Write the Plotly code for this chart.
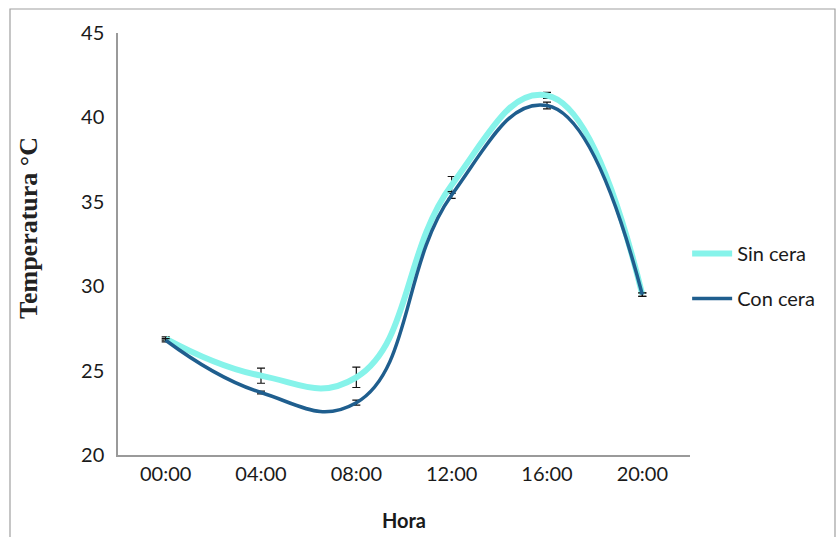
import plotly.graph_objects as go

horas = ["00:00", "04:00", "08:00", "12:00", "16:00", "20:00"]
sin_cera = [26.9, 24.7, 24.6, 36.0, 41.3, 29.5]
sin_cera_err = [0.1, 0.45, 0.6, 0.5, 0.18, 0.1]
con_cera = [26.8, 23.7, 23.1, 35.4, 40.7, 29.5]
con_cera_err = [0.1, 0.08, 0.15, 0.2, 0.2, 0.1]

tick_font = dict(family="Lato, Liberation Sans Narrow, sans-serif", size=20, color="#1a1a1a")

fig = go.Figure()
fig.add_trace(go.Scatter(
    x=horas, y=sin_cera, name="Sin cera", mode="lines", legendgroup="a",
    line=dict(color="#86F3EA", width=6, shape="spline", smoothing=1.3),
    error_y=dict(type="data", array=sin_cera_err, visible=True, color="#111111", thickness=1.2, width=4),
))
fig.add_trace(go.Scatter(
    x=horas, y=con_cera, name="Con cera", mode="lines", legendgroup="b",
    line=dict(color="#1F5E8E", width=3.5, shape="spline", smoothing=1.3),
    error_y=dict(type="data", array=con_cera_err, visible=True, color="#111111", thickness=1.2, width=4),
))

fig.update_layout(
    width=837, height=537,
    margin=dict(l=118, r=147, t=33, b=82),
    paper_bgcolor="white", plot_bgcolor="white",
    showlegend=True,
    legend=dict(x=0.995, y=(455 - 276) / 422, xanchor="left", yanchor="middle",
                font=dict(family="Lato, sans-serif", size=20, color="#1a1a1a"),
                tracegroupgap=16, itemwidth=40, bgcolor="rgba(0,0,0,0)"),
    xaxis=dict(type="category", range=[-0.5, 5.5], showgrid=False, zeroline=False,
               showline=True, linecolor="#9a9a9a", linewidth=1.5, ticks="",
               tickfont=tick_font, ticklabelstandoff=0, automargin=False,
               title=dict(text="<b>Hora</b>", font=dict(family="Lato, sans-serif", size=20, color="#1a1a1a"), standoff=30)),
    yaxis=dict(range=[20, 45], dtick=5, showgrid=False, zeroline=False,
               showline=True, linecolor="#9a9a9a", linewidth=1.5, ticks="",
               tickfont=tick_font, ticklabelstandoff=8, automargin=False),
    annotations=[dict(text="<b>Temperatura °C</b>", textangle=-90, showarrow=False,
                      xref="paper", yref="paper",
                      x=(28 - 118) / 572, y=(455 - 228) / 422,
                      xanchor="center", yanchor="middle",
                      font=dict(family="Liberation Serif, serif", size=26, color="#222222"))],
    shapes=[dict(type="rect", xref="paper", yref="paper",
                 x0=(10 - 118) / 572, x1=(835 - 118) / 572,
                 y0=(455 - 545) / 422, y1=(455 - 9) / 422,
                 line=dict(color="#a0a0a0", width=1.2), layer="below")],
)

fig.write_html("out.html")
